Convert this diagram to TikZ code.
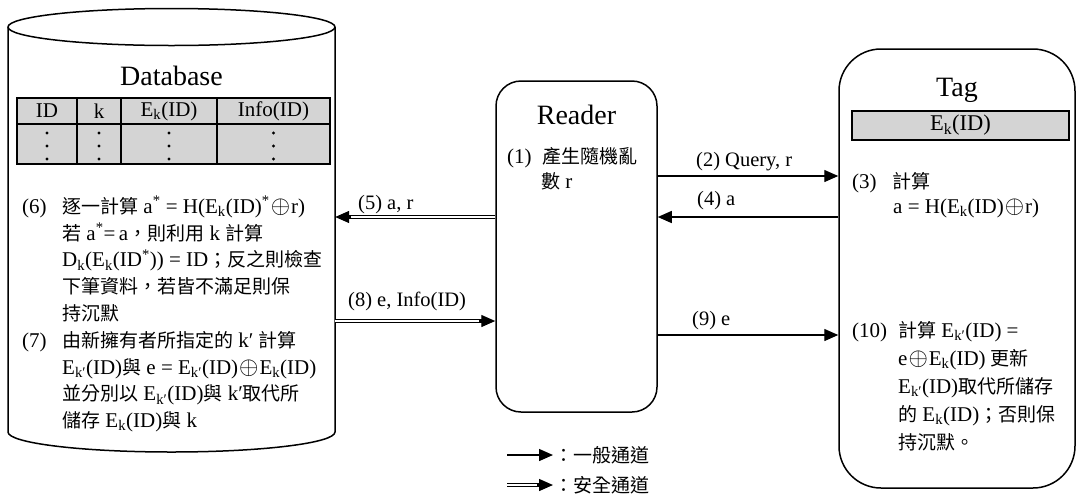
\documentclass[tikz,border=0pt]{standalone}
\usepackage{fontspec}
\setmainfont{Liberation Serif}
\newfontfamily\zhfont[Scale=0.905]{Noto Sans CJK TC}
\usetikzlibrary{arrows.meta, calc, positioning}
\newcommand{\zh}[1]{{\zhfont #1}}
\newcommand{\Ek}{E\textsubscript{k}}
\newcommand{\Ekp}{E\textsubscript{k′}}
\newcommand{\xor}{\kern1pt\scalebox{1.2}{$\oplus$}\kern1pt}
\tikzset{
    outline/.style={draw=black, line width=1.5pt},
    device/.style={rectangle, outline, inner sep=0pt},
    titletext/.style={font=\fontsize{28pt}{32pt}\selectfont, inner sep=0pt, anchor=base},
    note/.style={align=left, inner sep=0pt, anchor=north west},
    cell/.style={rectangle, draw=black, line width=1.6pt, fill=black!17, inner sep=0pt,
        font=\fontsize{21pt}{23pt}\selectfont},
    lbl/.style={font=\fontsize{20.5pt}{23pt}\selectfont, inner sep=0pt, anchor=base west},
    plain/.style={line width=1.4pt, -{Triangle[length=14pt, width=12pt]}},
    secure/.style={double, double distance=2.2pt, line width=1.1pt, shorten >=12pt},
}
% double shaft with a solid head
\newcommand{\securearrow}[2]{%
    \draw[secure] (#1) -- (#2);
    \draw[plain] ($(#2)!16pt!(#1)$) -- (#2);}

\begin{document}
\begin{tikzpicture}[x=1pt, y=-1pt]
    \useasboundingbox (0,0) rectangle (1080,499);

    % database cylinder
    \draw[outline] (8,27) -- (8,432) arc[start angle=180, end angle=0, x radius=163.5, y radius=20] -- (335,27);
    \draw[outline] (171.5,27) ellipse[x radius=163.5, y radius=18.5];
    \node[inner sep=0pt, minimum width=327, minimum height=405] (db) at (171.5,229.5) {};
    \node[titletext] (dbtitle) at (171.5,85) {Database};

    % stored records
    \foreach \x/\w/\lab [count=\i] in {47/60/ID, 99/44/k, 169/96/\Ek(ID), 273.5/113/Info(ID)} {
        \node[cell, minimum width=\w, minimum height=26] (head\i) at (\x,111) {\lab};
        \node[cell, minimum width=\w, minimum height=40] (rows\i) at (\x,144) {};
        \foreach \y in {133,146,159}
            \fill (\x,\y) circle (1.6);
    }

    \node[note, font=\fontsize{21pt}{26.8pt}\selectfont] (dbnote) at (22,196) {%
        \makebox[40pt][l]{(6)}\zh{逐一計算} a\textsuperscript{*} = H(\Ek(ID)\textsuperscript{*}\xor r)\\
        \hspace*{40pt}\zh{若} a\textsuperscript{*}=\,a\zh{，則利用} k \zh{計算}\\
        \hspace*{40pt}D\textsubscript{k}(\Ek(ID\textsuperscript{*})) = ID\zh{；反之則檢查}\\
        \hspace*{40pt}\zh{下筆資料，若皆不滿足則保}\\
        \hspace*{40pt}\zh{持沉默}\\
        \makebox[40pt][l]{(7)}\zh{由新擁有者所指定的} k′ \zh{計算}\\
        \hspace*{40pt}\Ekp(ID)\zh{與} e = \Ekp(ID)\xor\Ek(ID)\\
        \hspace*{40pt}\zh{並分別以} \Ekp(ID)\zh{與} k′\zh{取代所}\\
        \hspace*{40pt}\zh{儲存} \Ek(ID)\zh{與} k};

    % reader
    \node[device, minimum width=161, minimum height=331, rounded corners=25pt] (reader) at (576.5,246.5) {};
    \node[titletext] (readertitle) at (576.5,124) {Reader};
    \node[note, font=\fontsize{21pt}{25pt}\selectfont] (readernote) at (507,147) {%
        \makebox[35pt][l]{(1)}\zh{產生隨機亂}\\
        \hspace*{34pt}\zh{數} r};

    % tag
    \node[device, minimum width=236, minimum height=439, rounded corners=42pt] (tag) at (957,268.5) {};
    \node[titletext] (tagtitle) at (957,96) {Tag};
    \node[cell, minimum width=217, minimum height=29, font=\fontsize{22.5pt}{24pt}\selectfont] (tagkey) at (960.5,125.5) {\Ek(ID)};
    \node[note, font=\fontsize{21pt}{25pt}\selectfont] (tagcalc) at (852,172) {%
        \makebox[40pt][l]{(3)}\zh{計算}\\
        \hspace*{41pt}a = H(\Ek(ID)\xor r)};
    \node[note, font=\fontsize{21pt}{28pt}\selectfont] (tagupdate) at (852,321) {%
        \makebox[46pt][l]{(10)}\zh{計算} \Ekp(ID) =\\
        \hspace*{46pt}e\xor\Ek(ID) \zh{更新}\\
        \hspace*{46pt}\Ekp(ID)\zh{取代所儲存}\\
        \hspace*{46pt}\zh{的} \Ek(ID)\zh{；否則保}\\
        \hspace*{46pt}\zh{持沉默。}};

    % message lanes
    \coordinate (l2) at (0,176);
    \coordinate (l4) at (0,217);
    \coordinate (l8) at (0,321);
    \coordinate (l9) at (0,335);

    \draw[plain] (reader.east |- l2) -- (tag.west |- l2);
    \draw[plain] (tag.west |- l4) -- (reader.east |- l4);
    \securearrow{reader.west |- l4}{db.east |- l4}
    \securearrow{db.east |- l8}{reader.west |- l8}
    \draw[plain] (reader.east |- l9) -- (tag.west |- l9);

    \node[lbl] (m2) at (696,166) {(2) Query, r};
    \node[lbl] (m4) at (697,205) {(4) a};
    \node[lbl] (m5) at (358,209) {(5) a, r};
    \node[lbl] (m8) at (348,306) {(8) e, Info(ID)};
    \node[lbl] (m9) at (692,325) {(9) e};

    % legend
    \coordinate (legA) at (507,455);
    \coordinate (legB) at (553,455);
    \coordinate (legC) at (507,485);
    \coordinate (legD) at (553,485);
    \draw[plain] (legA) -- (legB);
    \securearrow{legC}{legD}
    \node[anchor=west, inner sep=0pt, font=\fontsize{21pt}{23pt}\selectfont] (legplain) at (554,455) {\zh{：一般通道}};
    \node[anchor=west, inner sep=0pt, font=\fontsize{21pt}{23pt}\selectfont] (legsecure) at (554,485) {\zh{：安全通道}};
\end{tikzpicture}
\end{document}
